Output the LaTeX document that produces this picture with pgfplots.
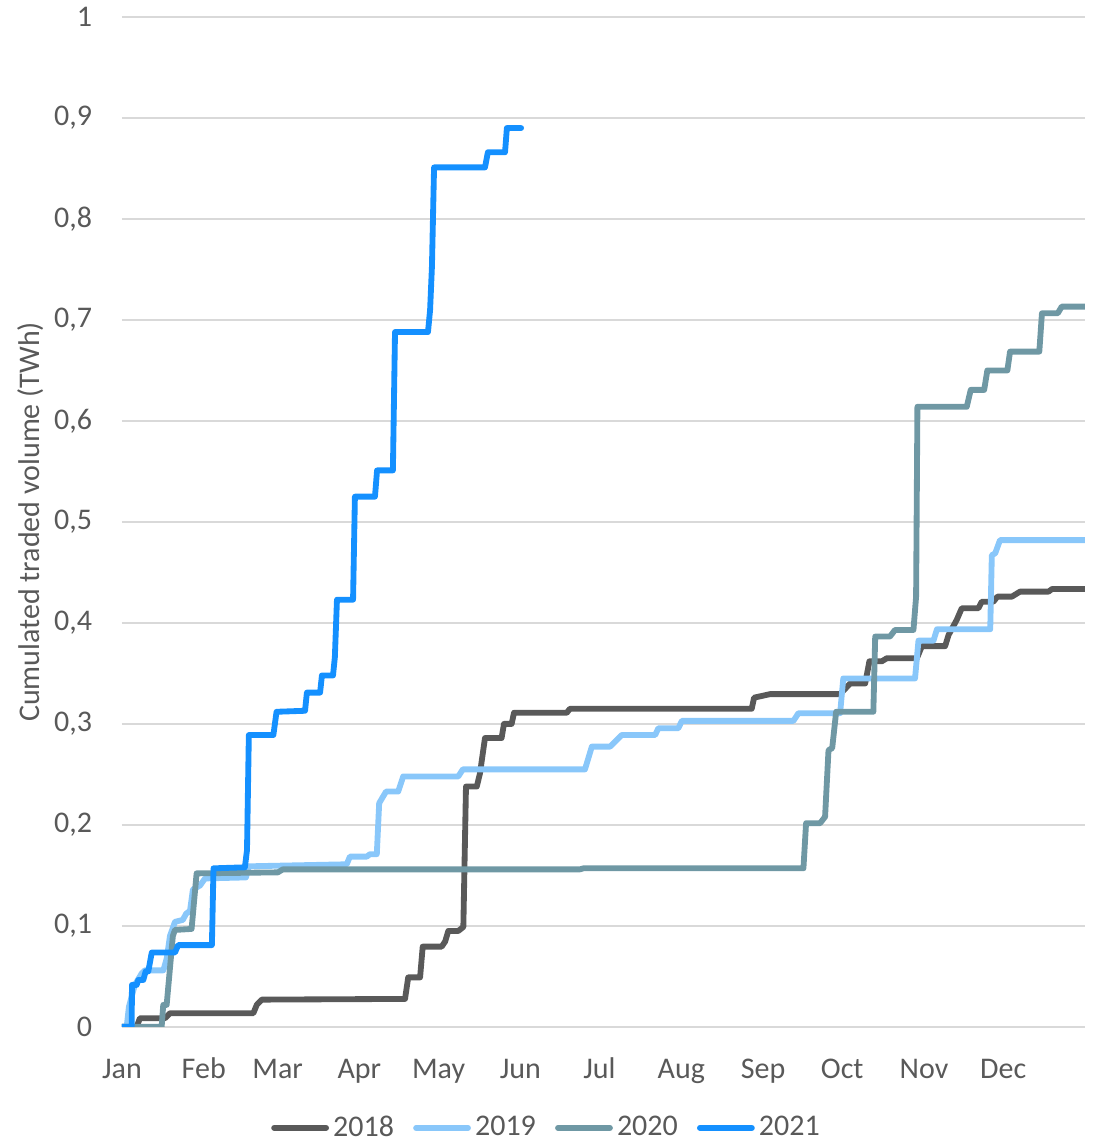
\documentclass[border=0pt]{standalone}
\usepackage{fontspec}
\setmainfont{Carlito}
\usepackage{pgfplots}
\pgfplotsset{compat=1.18}

\definecolor{c18}{RGB}{89,89,89}
\definecolor{c19}{RGB}{137,199,250}
\definecolor{c20}{RGB}{111,152,164}
\definecolor{c21}{RGB}{20,144,255}
\definecolor{txt}{RGB}{89,89,89}
\definecolor{grd}{RGB}{217,217,217}

\begin{document}
\begin{tikzpicture}
\begin{axis}[
    name=ax,
    scale only axis,
    width=346.7pt, height=363.6pt,
    xmin=0, xmax=365, ymin=0, ymax=1,
    axis line style={draw=none},
    tick style={draw=none},
    ymajorgrids,
    major grid style={grd, line width=0.75pt},
    xtick={0,31,59,90,120,151,181,212,243,273,304,334},
    xticklabels={Jan,Feb,Mar,Apr,May,Jun,Jul,Aug,Sep,Oct,Nov,Dec},
    ytick={0,0.1,0.2,0.3,0.4,0.5,0.6,0.7,0.8,0.9,1},
    /pgf/number format/.cd, use comma, fixed, precision=1, assume math mode=true,
    /pgfplots/.cd,
    tick label style={font=\fontsize{10.8}{13}\selectfont, text=txt},
    yticklabel style={xshift=-7.2pt},
    xticklabel style={anchor=base, yshift=-18.4pt},
    ylabel={Cumulated traded volume (TWh)},
    ylabel style={at={(axis description cs:-0.0945,0.5)}, anchor=center, rotate=0,
        font=\fontsize{10.8}{13}\selectfont, text=txt},
    every axis plot/.append style={line width=2.1pt, line join=round, line cap=round},
    legend columns=4,
    legend style={draw=none, fill=none, at={(axis description cs:0.442,-0.1)}, anchor=center,
        font=\fontsize{10.8}{13}\selectfont, text=txt,
        nodes={inner xsep=1.5pt},
        /tikz/every odd column/.append style={column sep=0pt},
        /tikz/every even column/.append style={column sep=5.4pt}},
    legend image code/.code={\draw[#1] (0pt,0pt) -- (18.7pt,0pt);},
]
\addplot[c18] coordinates {
(0,0) (5.6,0) (6.8,0.0086) (16.3,0.0086) (18.2,0.0135) (49.8,0.0135) (51.1,0.0218) (53.0,0.027)
(107.3,0.0277) (108.5,0.049) (113.0,0.049) (114.0,0.0795) (121.2,0.0795) (122.5,0.0845)
(123.7,0.095) (127.5,0.095) (129.4,0.099) (130.4,0.238) (134.5,0.238) (135.7,0.251)
(137.6,0.286) (143.9,0.286) (144.8,0.300) (147.7,0.300) (148.6,0.311) (168.6,0.311)
(169.8,0.315) (238.7,0.315) (239.6,0.326) (245.7,0.3295) (272.2,0.3295) (276.0,0.340)
(281.7,0.340) (283.3,0.362) (288.0,0.362) (289.9,0.365) (301.3,0.365) (303.2,0.377)
(312.0,0.377) (313.3,0.388) (316.4,0.403) (318.3,0.4145) (324.6,0.4145) (325.9,0.421)
(330.3,0.421) (331.8,0.426) (337.3,0.426) (340.4,0.431) (351.2,0.431) (352.5,0.4335)
(365,0.4335)
};
\addplot[c19] coordinates {
(0,0) (1.8,0) (2.65,0.020) (4.9,0.0416) (7.5,0.053) (8.7,0.056) (15.7,0.056) (17.0,0.068)
(18.2,0.090) (20.1,0.104) (23.1,0.106) (24.3,0.112) (25.8,0.115) (26.9,0.136) (29.6,0.140)
(31.5,0.147) (47.0,0.148) (48.1,0.159) (85.2,0.161) (86.4,0.1686) (92.8,0.1686) (94.0,0.171)
(96.6,0.171) (97.5,0.2215) (100.1,0.233) (104.7,0.233) (106.6,0.248) (127.5,0.248)
(129.2,0.255) (175.5,0.255) (178.1,0.2775) (185.0,0.2775) (186.9,0.2825) (189.4,0.289)
(202.1,0.289) (203.3,0.2957) (210.9,0.2957) (212.2,0.303) (254.5,0.303) (256.4,0.3106)
(272.2,0.3106) (273.4,0.345) (300.6,0.345) (301.9,0.3825) (307.6,0.3825) (308.9,0.3937)
(329.1,0.3937) (329.7,0.467) (331.0,0.469) (332.8,0.482) (365,0.482)
};
\addplot[c20] coordinates {
(0,0) (15.05,0) (15.66,0.0218) (16.95,0.0218) (19.3,0.090) (20.1,0.096) (26.4,0.097)
(28.3,0.152) (59.1,0.153) (61.0,0.156) (173.6,0.156) (174.9,0.157) (258.3,0.157)
(259.3,0.2017) (264.6,0.2017) (266.5,0.208) (267.8,0.274) (269.2,0.276) (270.7,0.312)
(284.8,0.312) (285.5,0.3865) (291.1,0.3865) (293.0,0.393) (300.0,0.393) (301.0,0.426)
(301.5,0.614) (320.2,0.614) (321.7,0.6307) (326.8,0.6307) (328.0,0.650) (335.6,0.650)
(336.6,0.6686) (347.7,0.6686) (348.7,0.7066) (354.7,0.7066) (356.2,0.7132) (365,0.7132)
};
\addplot[c21] coordinates {
(0,0) (3.7,0) (3.8,0.0416) (5.6,0.0416) (6.2,0.0465) (8.1,0.0465) (9.0,0.055) (10.0,0.055)
(11.3,0.0736) (20.1,0.0736) (21.3,0.081) (34.1,0.081) (34.7,0.157) (46.6,0.158) (47.4,0.175)
(48.1,0.289) (57.4,0.289) (58.6,0.312) (69.4,0.313) (70.1,0.331) (75.1,0.331) (75.8,0.348)
(80.0,0.348) (80.7,0.366) (81.5,0.423) (87.6,0.423) (88.3,0.525) (95.9,0.525) (96.7,0.551)
(102.7,0.551) (103.5,0.688) (116.0,0.688) (116.8,0.710) (117.5,0.753) (118.3,0.851)
(137.6,0.851) (138.7,0.866) (145.2,0.866) (145.9,0.890) (151.3,0.890)
};
\legend{2018,2019,2020,2021}
\end{axis}
\pgfresetboundingbox
\path[use as bounding box] ([xshift=-43.9pt,yshift=-41.8pt]ax.south west) rectangle ([xshift=6.1pt,yshift=6.1pt]ax.north east);
\end{tikzpicture}
\end{document}
